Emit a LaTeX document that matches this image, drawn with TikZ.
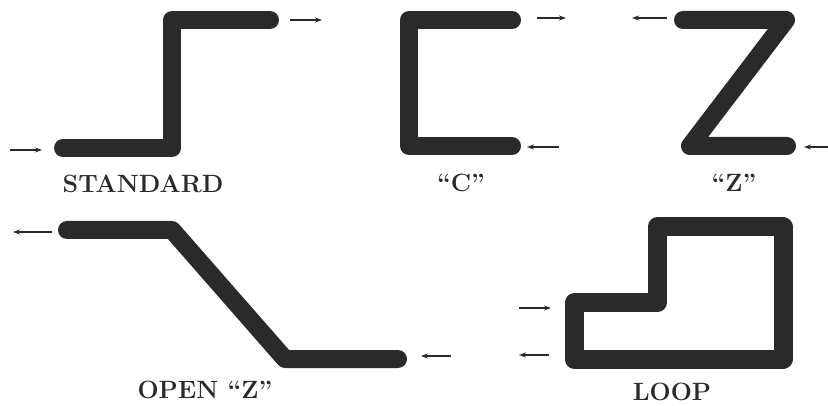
\documentclass[tikz,border=0pt]{standalone}
\usepackage{fontspec}
\usetikzlibrary{arrows.meta}
\definecolor{ink}{HTML}{2A2A2A}
\tikzset{
  pipe/.style={draw=ink, line width=18pt, line cap=round, line join=round},
  flow/.style={draw=ink, line width=1.3pt, -{Stealth[length=7pt,width=5pt]}},
  lbl/.style={text=ink, anchor=base, inner sep=0pt, font=\fontsize{25}{29}\selectfont\bfseries}
}
\begin{document}
\begin{tikzpicture}[x=1pt,y=-1pt]
\useasboundingbox (0,0) rectangle (828,406);
% STANDARD
\draw[pipe] (63,148) -- (172,148) -- (172,20) -- (270,20);
\coordinate (s1a) at (10,150); \coordinate (s1b) at (42,150);
\coordinate (s2a) at (290,20); \coordinate (s2b) at (322,20);
\draw[flow] (s1a) -- (s1b);
\draw[flow] (s2a) -- (s2b);
\node[lbl] (lstd) at (143,193) {STANDARD};
% C
\draw[pipe] (512,20) -- (409,20) -- (409,146) -- (512,146);
\coordinate (c1a) at (537,18); \coordinate (c1b) at (566,18);
\coordinate (c2a) at (559,147); \coordinate (c2b) at (527,147);
\draw[flow] (c1a) -- (c1b);
\draw[flow] (c2a) -- (c2b);
\node[lbl] (lc) at (461,192) {``C''};
% Z
\draw[pipe] (683,20) -- (786,20) -- (690,146) -- (787,146);
\coordinate (z1a) at (667,18); \coordinate (z1b) at (632,18);
\coordinate (z2a) at (832,147); \coordinate (z2b) at (804,147);
\draw[flow] (z1a) -- (z1b);
\draw[flow] (z2a) -- (z2b);
\node[lbl] (lz) at (734,192) {``Z''};
% OPEN Z
\draw[pipe] (67,230) -- (172,230) -- (285,359) -- (398,359);
\coordinate (o1a) at (52,232); \coordinate (o1b) at (13,232);
\coordinate (o2a) at (451,356); \coordinate (o2b) at (421,356);
\draw[flow] (o1a) -- (o1b);
\draw[flow] (o2a) -- (o2b);
\node[lbl] (lo) at (205,398) {OPEN ``Z''};
% LOOP
\draw[pipe, line width=19pt] (574,359) -- (574,303) -- (657,303) -- (657,227) -- (783,227) -- (783,359) -- cycle;
\coordinate (l1a) at (519,308); \coordinate (l1b) at (551,308);
\coordinate (l2a) at (549,355); \coordinate (l2b) at (519,355);
\draw[flow] (l1a) -- (l1b);
\draw[flow] (l2a) -- (l2b);
\node[lbl] (ll) at (672,400) {LOOP};
\end{tikzpicture}
\end{document}
